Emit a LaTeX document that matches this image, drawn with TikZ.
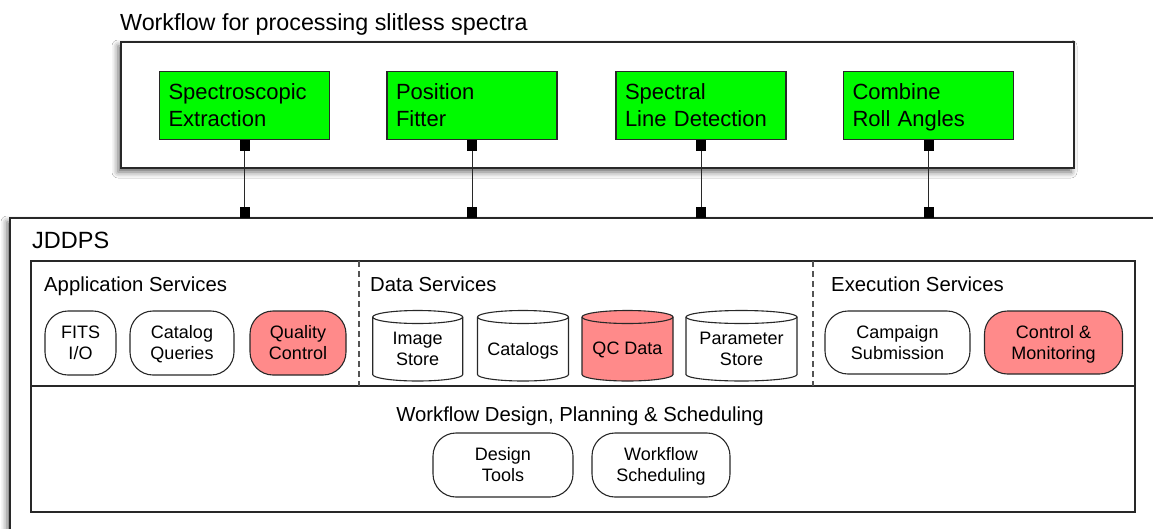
\documentclass[tikz,border=0pt]{standalone}
\usepackage{fontspec}
\setmainfont{Liberation Sans}
\usetikzlibrary{shadows.blur,calc}

\definecolor{procgreen}{RGB}{0,250,0}
\definecolor{alertpink}{RGB}{255,138,138}
\definecolor{edge}{RGB}{40,40,40}

\pgfdeclarelayer{frames}
\pgfdeclarelayer{drums}
\pgfsetlayers{frames,drums,main}

% data store drawn as a drum behind its text node: #1 node, #2 half width (pt), #3 fill
\newcommand\drum[3]{%
  \begin{pgfonlayer}{drums}
    \path[line width=1.1pt, draw=edge, fill=#3]
      (#1.north west) -- ([yshift=6.5pt]#1.south west)
      arc[start angle=180, end angle=360, x radius=#2pt, y radius=6.5pt]
      -- (#1.north east)
      arc[start angle=0, end angle=180, x radius=#2pt, y radius=6.5pt] -- cycle;
    \draw[line width=1.1pt, draw=edge] (#1.north west)
      arc[start angle=180, end angle=360, x radius=#2pt, y radius=6.5pt];
  \end{pgfonlayer}}

\tikzset{
  frame/.style={draw=edge, line width=1.2pt},
  dropshadow/.style={blur shadow={shadow xshift=-3pt, shadow yshift=-4pt,
    shadow blur radius=6pt, shadow opacity=60}},
  divider/.style={draw=edge!80, line width=1.2pt, dash pattern=on 6pt off 4pt},
  procbox/.style={draw=edge, line width=1.1pt, fill=procgreen, minimum width=170pt,
    minimum height=68pt, text width=152pt, inner xsep=9pt, inner ysep=0pt, align=left,
    execute at begin node={\rule{0pt}{20pt}}, execute at end node={\vphantom{g}},
    font=\fontsize{22}{27}\selectfont},
  svc/.style={draw=edge, line width=1.1pt, fill=white, rounded corners=23pt, minimum height=64pt,
    align=center, inner sep=0pt, text depth=1pt, font=\fontsize{18}{21}\selectfont},
  store/.style={minimum height=64pt, inner sep=0pt, outer sep=0pt, align=center,
    text depth=1pt, font=\fontsize{18}{21}\selectfont},
  port/.style={fill=black, minimum width=10pt, minimum height=11pt, inner sep=0pt, outer sep=0pt},
  wire/.style={draw=edge, line width=1pt},
  heading/.style={anchor=base west, inner sep=0pt, font=\fontsize{20.3}{24}\selectfont},
}

\begin{document}
\begin{tikzpicture}[x=1pt, y=-1pt]
\useasboundingbox (0,0) rectangle (1153,528);

% frames, section boxes and dividers
\begin{pgfonlayer}{frames}
  \clip (0,0) rectangle (1153,528);
  \fill[white] (0,0) rectangle (1153,528);
  \draw[frame, fill=white, dropshadow] (121,42) rectangle (1074,168);
  \draw[frame, fill=white, dropshadow] (10,218) rectangle (1170,560);
  \draw[frame] (31,261) rectangle (1135,386);
  \draw[frame] (31,386) rectangle (1135,512);
  \draw[divider] (359,261) -- (359,386);
  \draw[divider] (813,261) -- (813,386);
\end{pgfonlayer}

% workflow
\node[anchor=base west, inner sep=0pt, font=\fontsize{23.3}{27}\selectfont] (title) at (120,30)
  {Workflow for processing slitless spectra};
\node[procbox] (g1) at (244.5,105.5) {Spectroscopic\\Extraction};
\node[procbox] (g2) at (472,105.5) {Position\\Fitter};
\node[procbox] (g3) at (701,105.5) {Spectral\\Line Detection};
\node[procbox] (g4) at (928.5,105.5) {Combine\\Roll Angles};

% ports and links down to JDDPS
\coordinate (jtop) at (0,218);
\foreach \i in {1,...,4} {
  \node[port, anchor=north] (p\i t) at (g\i.south) {};
  \node[port, anchor=south] (p\i b) at (p\i t |- jtop) {};
  \draw[wire] (p\i t) -- (p\i b);
}

% JDDPS
\node[anchor=base west, inner sep=0pt, font=\fontsize{23.5}{27}\selectfont] (jddps) at (32,248.5) {JDDPS};
\node[heading] (appsvc) at (44,291) {Application Services};
\node[heading] (datasvc) at (370,291) {Data Services};
\node[heading] (execsvc) at (831,291) {Execution Services};
\node[heading, anchor=base] (wfdesign) at (580,421) {Workflow Design, Planning \& Scheduling};

\node[svc, minimum width=71pt] (fits) at (80.5,343) {FITS\\I/O};
\node[svc, minimum width=104pt] (catq) at (182,343) {Catalog\\Queries};
\node[svc, minimum width=96pt, fill=alertpink] (qc) at (298,343) {Quality\\Control};

\node[store, minimum width=90pt] (imgstore) at (417.7,349) {Image\\Store};
\drum{imgstore}{45}{white}
\node[store, minimum width=91pt] (catalogs) at (523,349) {Catalogs};
\drum{catalogs}{45.5}{white}
\node[store, minimum width=91pt] (qcdata) at (627.5,349) {QC Data};
\drum{qcdata}{45.5}{alertpink}
\node[store, minimum width=111pt] (paramstore) at (741.5,349) {Parameter\\Store};
\drum{paramstore}{55.5}{white}

\node[svc, minimum width=145pt, minimum height=63pt] (camp) at (897.5,342.5) {Campaign\\Submission};
\node[svc, minimum width=138pt, minimum height=63pt, fill=alertpink] (ctrl) at (1053.5,342.5) {Control \&\\Monitoring};

\node[svc, minimum width=140pt] (dtools) at (503,465) {Design\\Tools};
\node[svc, minimum width=138pt] (wsched) at (661,465) {Workflow\\Scheduling};
\end{tikzpicture}
\end{document}
